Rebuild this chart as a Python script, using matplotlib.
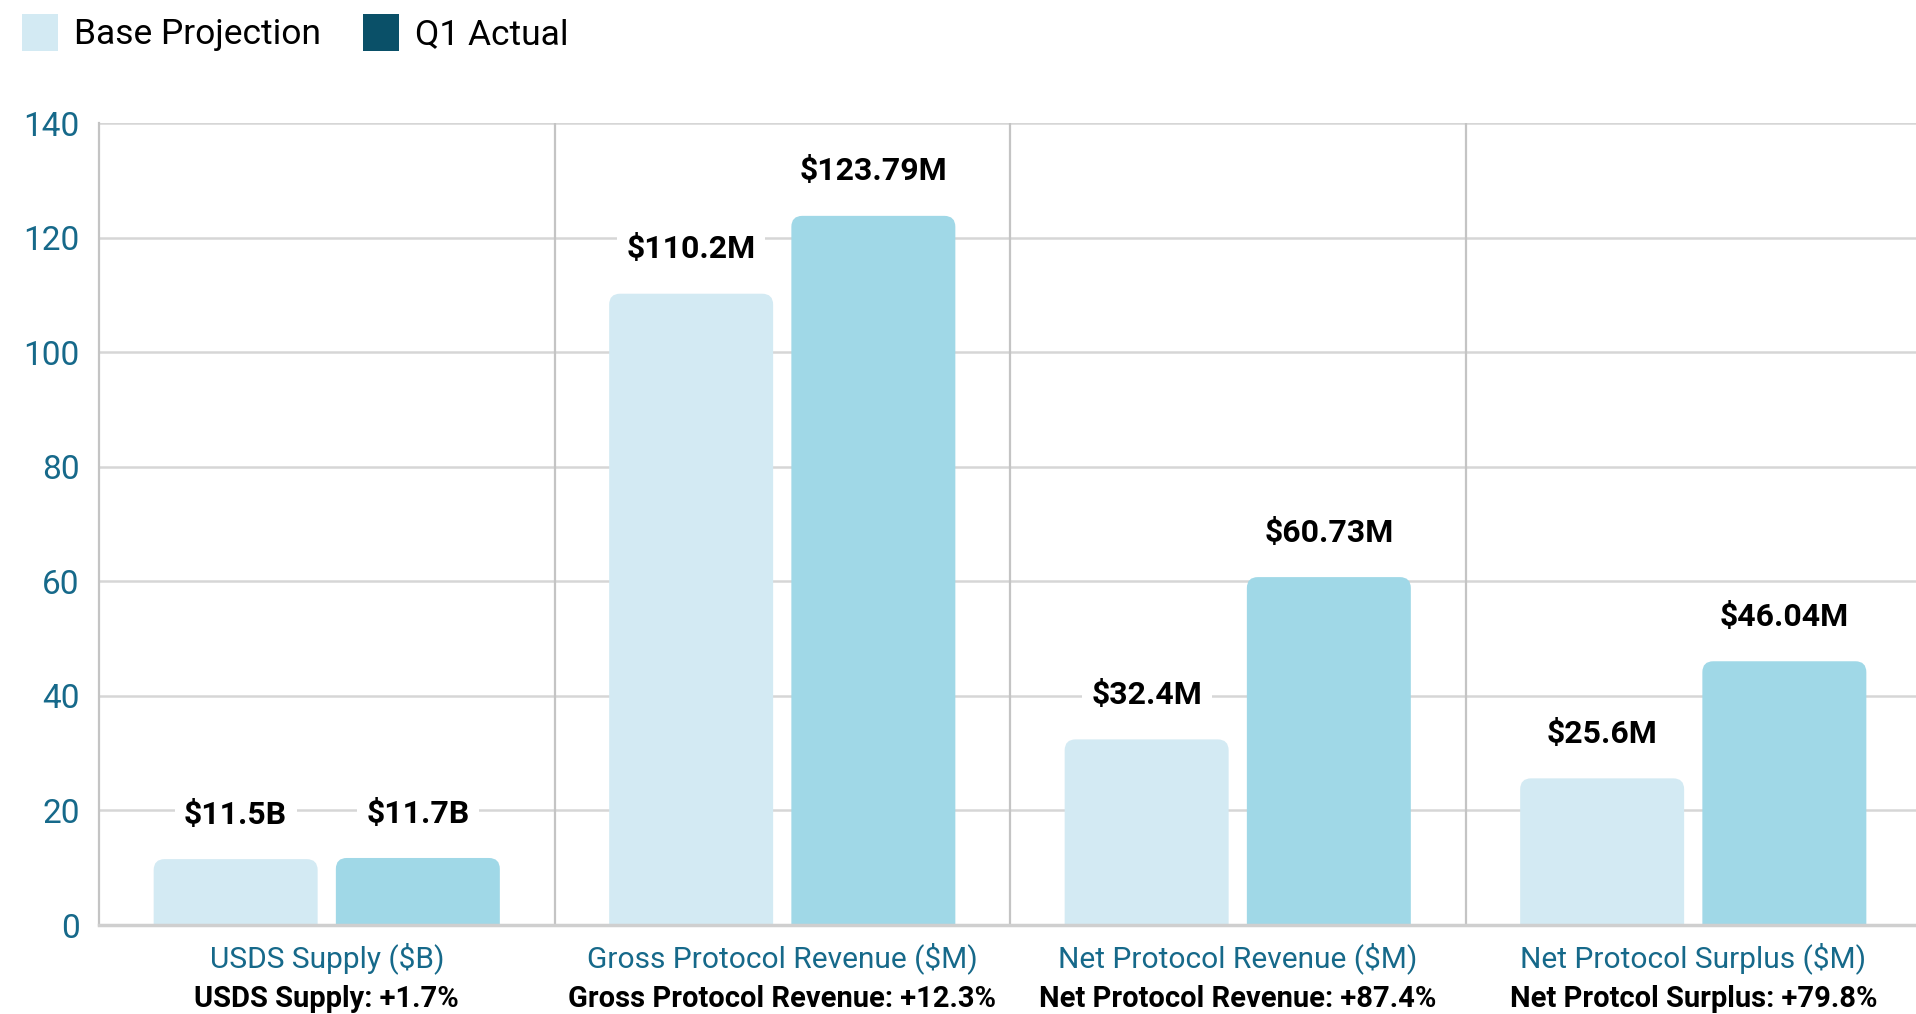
import numpy as np
import matplotlib.pyplot as plt
from matplotlib.patches import FancyBboxPatch, Patch

# chart data
categories = ["USDS Supply ($B)", "Gross Protocol Revenue ($M)",
              "Net Protocol Revenue ($M)", "Net Protocol Surplus ($M)"]
change_labels = ["USDS Supply: +1.7%", "Gross Protocol Revenue: +12.3%",
                 "Net Protocol Revenue: +87.4%", "Net Protcol Surplus: +79.8%"]
base_projection = [11.5, 110.2, 32.4, 25.6]
q1_actual = [11.7, 123.79, 60.73, 46.04]
base_labels = ["$11.5B", "$110.2M", "$32.4M", "$25.6M"]
actual_labels = ["$11.7B", "$123.79M", "$60.73M", "$46.04M"]
y_ticks = [0, 20, 40, 60, 80, 100, 120, 140]

LIGHT = "#d3eaf3"
ACTUAL = "#a0d8e7"
LEGEND_ACTUAL = "#0a5068"
TEAL = "#16698a"
GRID = "#d6d6d6"

plt.rcParams['font.family'] = ['Roboto', 'DejaVu Sans']

fig = plt.figure(figsize=(19.16, 10.14), dpi=100)
ax = fig.add_axes([99 / 1916, 89 / 1014, 1822 / 1916, 802 / 1014])
ax.set_xlim(-0.5, 3.5)
ax.set_ylim(0, 140)

bar_w = 0.36
offset = 0.2
x = np.arange(len(categories))

# rounded corner sizes (x-units, scaled in y by the data aspect)
r_x = 0.024
aspect = (140 / 802) / (4 / 1822)


def rounded_bar(xc, h, color):
    r_y = r_x * aspect
    p = FancyBboxPatch((xc - bar_w / 2, -r_y), bar_w, h + r_y,
                       boxstyle="round,pad=0,rounding_size=%f" % r_x,
                       mutation_aspect=aspect, facecolor=color,
                       edgecolor='none', zorder=3, clip_on=True)
    ax.add_patch(p)


for i in range(len(categories)):
    rounded_bar(x[i] - offset, base_projection[i], LIGHT)
    rounded_bar(x[i] + offset, q1_actual[i], ACTUAL)
    for xc, v, lab in [(x[i] - offset, base_projection[i], base_labels[i]),
                       (x[i] + offset, q1_actual[i], actual_labels[i])]:
        ax.annotate(lab, (xc, v), xytext=(0, 32), textcoords='offset points',
                    ha='center', va='center', fontsize=23, fontweight='bold',
                    color='black', zorder=5,
                    bbox=dict(facecolor='white', edgecolor='none', pad=7))
    ax.annotate(categories[i], (x[i], 0), xycoords=('data', 'axes fraction'),
                xytext=(0, -24), textcoords='offset points', ha='center',
                va='center', fontsize=21.5, color=TEAL)
    ax.annotate(change_labels[i], (x[i], 0), xycoords=('data', 'axes fraction'),
                xytext=(0, -53), textcoords='offset points', ha='center',
                va='center', fontsize=21, color='black', fontweight='bold')

# grid and dividers
for t in y_ticks[1:]:
    ax.axhline(t, color=GRID, lw=1.8, zorder=1)
for d in [0.5, 1.5, 2.5]:
    ax.axvline(d, color="#c4c4c4", lw=1.6, zorder=1)

for s in ['top', 'right']:
    ax.spines[s].set_visible(False)
ax.spines['left'].set_color("#c4c4c4")
ax.spines['left'].set_linewidth(1.6)
ax.spines['bottom'].set_color("#cfcfcf")
ax.spines['bottom'].set_linewidth(2.5)
ax.spines['bottom'].set_zorder(4)

ax.set_xticks([])
ax.set_yticks(y_ticks)
ax.tick_params(axis='y', length=0, pad=14, labelsize=24, labelcolor=TEAL)

handles = [Patch(facecolor=LIGHT, edgecolor='none'),
           Patch(facecolor=LEGEND_ACTUAL, edgecolor='none')]
fig.legend(handles, ["Base Projection", "Q1 Actual"], loc='upper left',
           bbox_to_anchor=(-0.005, 1.018), frameon=False, ncol=2, fontsize=25.5,
           handlelength=1.0, handleheight=1.25, handletextpad=0.45,
           columnspacing=1.2)

fig.savefig("out.png", dpi=100)
